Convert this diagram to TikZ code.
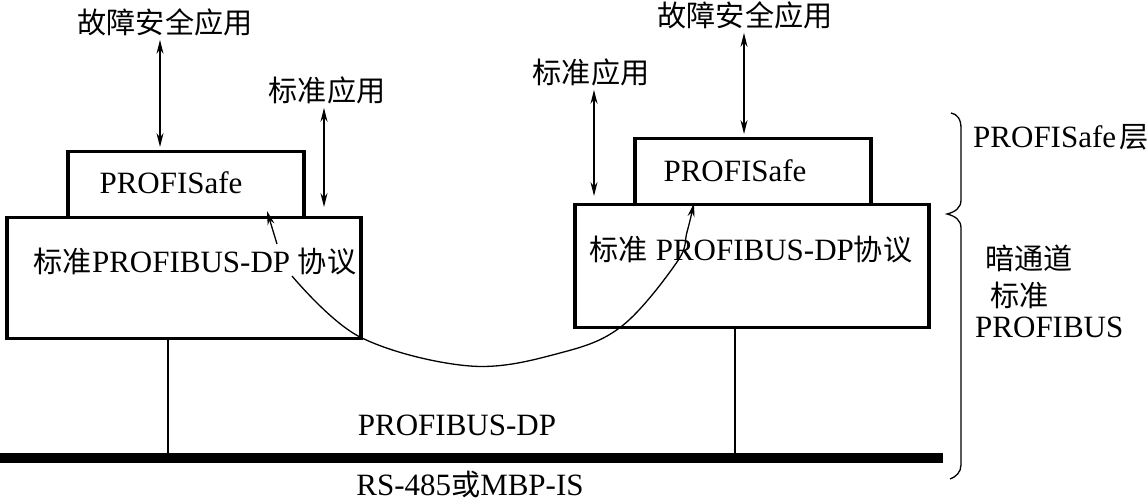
\documentclass[tikz,border=0pt]{standalone}
\usepackage{fontspec}
\setmainfont{Liberation Serif}
\newfontfamily\cjk[Scale=0.94]{Noto Sans CJK SC}
\usetikzlibrary{arrows.meta}
\begin{document}
\begin{tikzpicture}[x=1pt,y=-1pt,
  box/.style={draw,line width=3.5pt,anchor=north west,inner sep=0pt},
  lbl/.style={inner sep=0pt,font=\fontsize{31}{36}\selectfont},
  thinline/.style={line width=1.3pt},
  tip/.tip={Stealth[length=14pt,width=7pt]},
  dbl/.style={thinline,tip-tip}]
\useasboundingbox (0,0) rectangle (1148,502);

% boxes
\node[box,minimum width=236pt,minimum height=66pt] (safe1) at (66,150) {};
\node[box,minimum width=354pt,minimum height=121pt] (main1) at (5,216) {};
\node[box,minimum width=236pt,minimum height=66pt] (safe2) at (633,137) {};
\node[box,minimum width=354pt,minimum height=123pt] (main2) at (573,203) {};

% bus
\node[fill=black,anchor=north west,inner sep=0pt,minimum width=943pt,minimum height=10pt] (bus) at (0,453) {};

% top labels
\node[lbl] (fsa1) at (165,22) {\cjk 故障安全应用};
\node[lbl] (fsa2) at (745,15) {\cjk 故障安全应用};
\node[lbl] (std1) at (327,90) {\cjk 标准应用};
\node[lbl] (std2) at (591,72) {\cjk 标准应用};

% vertical double arrows
\draw[dbl] (fsa1.south -| 160,0) ++(0,4) -- (160,147);
\draw[dbl] (std1.south -| 324,0) ++(0,4) -- (324,207);
\draw[dbl] (fsa2.south -| 744,0) ++(0,4) -- (744,134);
\draw[dbl] (std2.south -| 594,0) ++(0,4) -- (594,196);

% drops to bus
\draw[thinline] (main1.south -| 168,0) -- (bus.north -| 168,0);
\draw[thinline] (main2.south -| 735,0) -- (bus.north -| 735,0);

% box texts
\node[lbl] (t1) at (171,183) {PROFISafe};
\node[lbl] (t2) at (195,262) {{\cjk 标准}PROFIBUS-DP {\cjk 协议}};
\node[lbl] (t3) at (735,171) {PROFISafe};
\node[lbl] (t4) at (751,250) {{\cjk 标准} PROFIBUS-DP{\cjk 协议}};

% safe-channel curve (interrupted by the left text)
\coordinate (cA) at (267,211);
\coordinate (cA2) at (277,244);
\coordinate (cB) at (694,203);
\draw[thinline,-tip] (cA2) -- (cA);
\draw[thinline,-tip] plot[smooth,tension=0.6] coordinates {(292,276) (360,337) (470,366) (560,353) (622,326) (677,262) (687,232) (cB)};

% bus texts
\node[lbl] (dp) at (457,425) {PROFIBUS-DP};
\node[lbl] (rs) at (470,484) {RS-485{\cjk 或}MBP-IS};

% brace
\draw[thinline] (951,113) .. controls (957,114) and (961,119) .. (961,128)
  -- (961,200) .. controls (961,208) and (955,212) .. (947,214)
  .. controls (955,216) and (961,220) .. (961,228)
  -- (961,465) .. controls (961,472) and (956,477) .. (950,479);

% right labels
\node[lbl,anchor=west] (lay1) at (973,137) {PROFISafe\hspace{3pt}{\cjk 层}};
\node[lbl,anchor=west] (lay2) at (985,258) {\cjk 暗通道};
\node[lbl,anchor=west] (lay3) at (990,295) {\cjk 标准};
\node[lbl,anchor=west] (lay4) at (975,327) {PROFIBUS};
\end{tikzpicture}
\end{document}
